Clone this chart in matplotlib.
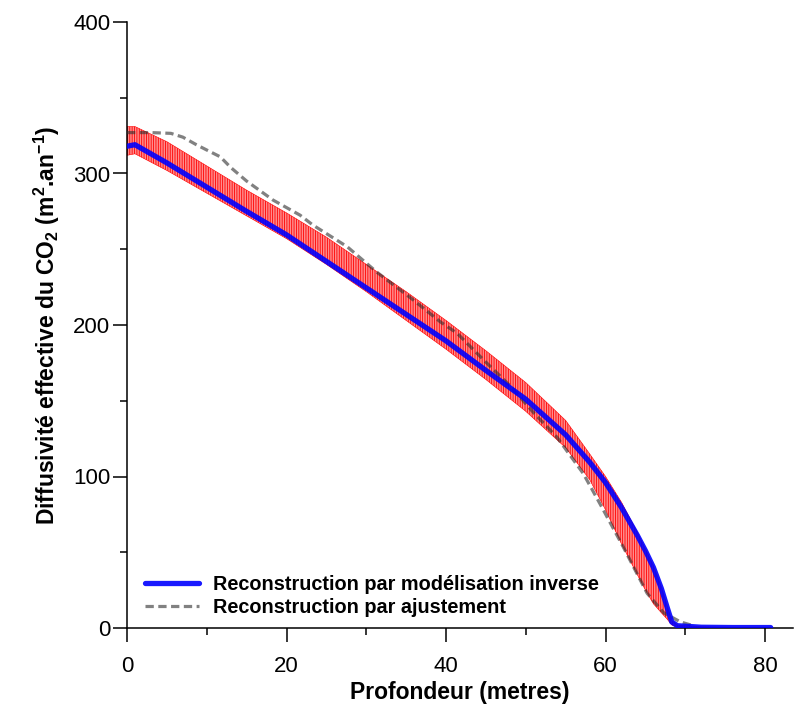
import matplotlib
matplotlib.use("Agg")
import matplotlib.pyplot as plt
import numpy as np

plt.rcParams["font.family"] = ["Liberation Sans", "DejaVu Sans"]
plt.rcParams["mathtext.fontset"] = "custom"
plt.rcParams["mathtext.rm"] = "Liberation Sans:bold"
plt.rcParams["mathtext.bf"] = "Liberation Sans:bold"
plt.rcParams["hatch.linewidth"] = 0.6
plt.rcParams["hatch.color"] = "#ff0000"

# ---------------------------------------------------------------------
# Data
# ---------------------------------------------------------------------
depth = [0, 1, 5, 10, 15, 20, 25, 30, 35, 40, 45, 50, 55, 58, 60, 62,
         64, 65, 66, 67, 67.7, 68.3, 69, 72, 76, 80.7]
inverse = [318, 319, 307, 291, 275, 259.5, 242, 224.5, 207, 189.5, 170,
           151, 127.5, 109.5, 96, 79.5, 61, 51, 40, 26, 14, 4, 1.5, 0.5,
           0.3, 0.3]
upper = [331, 331, 321, 305, 289, 274, 258, 240, 222, 203, 183, 162,
         137, 115, 100, 83, 63, 52, 41, 27, 15, 5, 2, 0.8, 0.5, 0.5]
lower = [312, 313, 302, 287, 272, 257, 240, 222, 203, 184, 164, 143,
         119, 98, 78, 55.5, 35, 25, 16, 10, 6, 2, 0.8, 0.2, 0.1, 0.1]

fit_depth = [0, 3, 5.5, 7, 8.7, 10, 11.7, 13, 15, 18.3, 21.7, 23.3,
             27.6, 31.3, 35.9, 39.3, 41.4, 44.7, 48, 51, 53.9, 57.2, 59.3,
             62.2, 65.2, 67.3, 69.4, 71]
fit = [327, 327, 326.5, 324, 319, 315.5, 311, 304, 295, 282.5, 272.5, 266,
       251.7, 235, 216.5, 202, 194.5, 177, 160, 142, 126, 102, 82, 53.7,
       23, 10, 4, 1.5]

# ---------------------------------------------------------------------
# Plot
# ---------------------------------------------------------------------
fig = plt.figure(figsize=(7.95, 7.07), dpi=100)
ax = fig.add_axes([127 / 795, 1 - 628 / 707, 666 / 795, 606 / 707])

# uncertainty band: pink fill, then red vertical hatching on top
ax.fill_between(depth, lower, upper, facecolor="#ff8c8c", linewidth=0,
                zorder=2)
ax.fill_between(depth, lower, upper, facecolor="none", edgecolor="#ff0000",
                hatch="|" * 7, linewidth=0.4, zorder=2.5)
# dashed fit drawn translucent so it shows through the band like the original
ax.plot(fit_depth, fit, color="#2e2e2e", alpha=0.6, lw=2.3,
        dashes=(2.6, 1.4), label="Reconstruction par ajustement", zorder=3)
ax.plot(depth, inverse, color="blue", lw=3.8, alpha=0.9,
        solid_capstyle="round", solid_joinstyle="round",
        label="Reconstruction par modélisation inverse", zorder=4)

ax.set_xlim(0, 83.5)
ax.set_ylim(0, 400)
ax.set_xticks([0, 20, 40, 60, 80])
ax.set_xticks([10, 30, 50, 70], minor=True)
ax.set_yticks([0, 100, 200, 300, 400])
ax.set_yticks([50, 150, 250, 350], minor=True)

for s in ("top", "right"):
    ax.spines[s].set_visible(False)
for s in ("left", "bottom"):
    ax.spines[s].set_linewidth(1.1)

ax.tick_params(which="major", length=10, width=1.1, labelsize=16)
ax.tick_params(which="minor", length=5, width=1.1)
ax.tick_params(axis="y", which="major", pad=2)
ax.tick_params(axis="x", which="major", pad=10)

ax.set_xlabel("Profondeur (metres)", fontsize=16.5, fontweight="bold",
              labelpad=3)
ax.set_ylabel(r"Diffusivité effective du CO$_2$ (m$^2$.an$^{-1}$)",
              fontsize=16.5, fontweight="bold", labelpad=8)

handles, labels = ax.get_legend_handles_labels()
leg = ax.legend(handles[::-1], labels[::-1], loc="lower left",
                bbox_to_anchor=(0.027, 0.018), frameon=False,
                handlelength=2.7, handletextpad=0.7, labelspacing=0.2,
                borderaxespad=0, borderpad=0,
                prop={"weight": "bold", "size": 14.3})

fig.savefig("out.png", dpi=100)
